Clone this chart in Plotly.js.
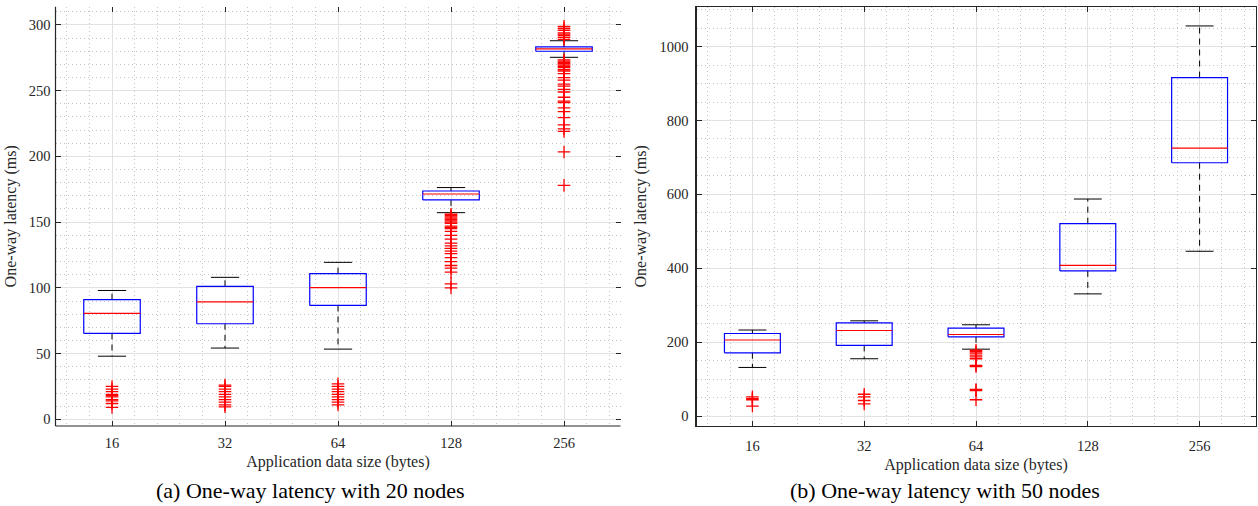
<!DOCTYPE html>
<html>
<head>
<meta charset="utf-8">
<script src="https://cdn.plot.ly/plotly-3.0.1.min.js"></script>
<style>html,body{margin:0;padding:0;background:#fff;}#chart{width:1258px;height:506px;}</style>
</head>
<body>
<div id="chart"></div>
<script>
// ---------- data ----------
const categories = ['16', '32', '64', '128', '256'];
const positions = [1, 2, 3, 4, 5];

// (a) 20 nodes
const a_q1 = [65.3, 72.7, 86.6, 166.9, 280.0];
const a_median = [80.6, 89.4, 100.2, 171.4, 281.8];
const a_q3 = [91.0, 101.2, 110.8, 173.7, 283.3];
const a_lowerWhisker = [48.0, 54.2, 53.4, 157.2, 275.4];
const a_upperWhisker = [98.0, 108.0, 119.4, 176.3, 288.0];
const a_out16 = [9, 12, 14, 15, 17, 18, 19, 21, 23, 25];
const a_out32 = [9.5, 11, 13, 15, 17, 19, 21, 23, 25, 26];
const a_out64 = [11, 13, 15, 17, 19, 21, 23, 25, 27];
const a_out128 = [156, 155, 154, 153, 152, 151, 150, 149, 147, 146, 145, 143, 140, 137, 134, 132, 130, 128, 126, 123, 120, 117, 115, 112, 103, 100];
const a_out256 = [299, 297.5, 296, 294, 293, 292, 290.5, 289,
  273.5, 272.5, 271.5, 270.5, 269.5, 268.5, 267.5, 266, 265, 263, 260, 258, 255, 253.5, 251, 249, 245, 242, 241, 237, 234, 229.5, 224, 221, 219, 203.4, 178];

// (b) 50 nodes
const b_q1 = [171.2, 191.0, 214.4, 392.8, 685.6];
const b_median = [205.8, 231.5, 220.7, 408.0, 725.2];
const b_q3 = [223.4, 252.3, 238.0, 520.7, 916.2];
const b_lowerWhisker = [131.5, 155.0, 181.0, 330.6, 446.0];
const b_upperWhisker = [232.8, 257.7, 247.0, 587.4, 1055.9];
const b_out16 = [52, 47, 44, 27];
const b_out32 = [59, 52, 42, 33];
const b_out64 = [178, 174, 170, 165, 160, 155, 137, 134, 72, 69, 44];
const b_out128 = [];
const b_out256 = [];

// ---------- styling ----------
const FONT = 'Liberation Serif';
const TXT = '#262626';
const BOX_W = 0.5, CAP_W = 0.25;

function panelTraces(q1, med, q3, lo, hi, outs, xa, ya) {
  const bx = [], by = [];
  const wx = [], wy = [];
  const cx = [], cy = [];
  const mx = [], my = [];
  positions.forEach((p, i) => {
    const l = p - BOX_W / 2, r = p + BOX_W / 2;
    bx.push(l, r, r, l, l, null);
    by.push(q1[i], q1[i], q3[i], q3[i], q1[i], null);
    wx.push(p, p, null, p, p, null);
    wy.push(q3[i], hi[i], null, q1[i], lo[i], null);
    cx.push(p - CAP_W / 2, p + CAP_W / 2, null, p - CAP_W / 2, p + CAP_W / 2, null);
    cy.push(hi[i], hi[i], null, lo[i], lo[i], null);
    mx.push(l, r, null);
    my.push(med[i], med[i], null);
  });
  const ox = [], oy = [];
  outs.forEach((arr, i) => arr.forEach(v => { ox.push(positions[i]); oy.push(v); }));
  const common = {xaxis: xa, yaxis: ya, hoverinfo: 'skip', showlegend: false};
  return [
    Object.assign({type: 'scatter', mode: 'lines', x: wx, y: wy,
      line: {color: '#000000', width: 1, dash: '6px,5px'}}, common),
    Object.assign({type: 'scatter', mode: 'lines', x: cx, y: cy,
      line: {color: '#000000', width: 1}}, common),
    Object.assign({type: 'scatter', mode: 'lines', x: bx, y: by,
      line: {color: '#0000ff', width: 1.2}}, common),
    Object.assign({type: 'scatter', mode: 'lines', x: mx, y: my,
      line: {color: '#ff0000', width: 1.2}}, common),
    Object.assign({type: 'scatter', mode: 'markers', x: ox, y: oy,
      marker: {symbol: 'cross-thin', size: 9, line: {color: '#ff0000', width: 1.3}}}, common)
  ];
}

const data = [].concat(
  panelTraces(a_q1, a_median, a_q3, a_lowerWhisker, a_upperWhisker,
    [a_out16, a_out32, a_out64, a_out128, a_out256], 'x', 'y'),
  panelTraces(b_q1, b_median, b_q3, b_lowerWhisker, b_upperWhisker,
    [b_out16, b_out32, b_out64, b_out128, b_out256], 'x2', 'y2')
);

const MINOR = {showgrid: true, gridcolor: '#c4c4c4', griddash: '1px,3px', gridwidth: 1, ticks: ''};

function xAxis(domain, anchor, line) {
  return {
    domain: domain, anchor: anchor, range: [0.5, 5.5],
    tickmode: 'array', tickvals: positions, ticktext: categories,
    ticks: 'inside', ticklen: 5, tickwidth: 1, tickcolor: TXT,
    showline: line, linecolor: TXT, linewidth: 1.2, mirror: 'ticks',
    showgrid: true, gridcolor: '#e2e2e2', gridwidth: 1, zeroline: false,
    minor: Object.assign({dtick: 0.2, tick0: 0}, MINOR),
    tickfont: {family: FONT, size: 14.5, color: TXT}, ticklabelstandoff: 6,
    title: {text: 'Application data size (bytes)', font: {family: FONT, size: 16, color: TXT}, standoff: 6},
    automargin: false, fixedrange: true
  };
}
function yAxis(range, dtick, minor, anchor, line) {
  return {
    domain: [1 - 426 / 506, 1 - 6.7 / 506], anchor: anchor, range: range,
    dtick: dtick, tick0: 0, ticks: 'inside', ticklen: 5, tickwidth: 1, tickcolor: TXT,
    showline: line, linecolor: TXT, linewidth: 1.2, mirror: 'ticks',
    showgrid: true, gridcolor: '#e2e2e2', gridwidth: 1, zeroline: false,
    minor: Object.assign({dtick: minor, tick0: 0}, MINOR),
    tickfont: {family: FONT, size: 14.5, color: TXT}, ticklabelstandoff: 4,
    title: {text: 'One-way latency (ms)', font: {family: FONT, size: 16, color: TXT}, standoff: 8},
    automargin: false, fixedrange: true
  };
}

const layout = {
  width: 1258, height: 506,
  margin: {l: 0, r: 0, t: 0, b: 0},
  paper_bgcolor: '#ffffff', plot_bgcolor: '#ffffff',
  showlegend: false,
  xaxis: xAxis([55.5 / 1258, 620.5 / 1258], 'y', false),
  yaxis: yAxis([-5.1, 313.9], 50, 10, 'x', false),
  xaxis2: xAxis([696.5 / 1258, 1255.5 / 1258], 'y2', true),
  yaxis2: yAxis([-27, 1108], 200, 50, 'x2', true),
  shapes: [
    {type: 'line', xref: 'x domain', yref: 'y domain', x0: 0, x1: 0, y0: 0, y1: 1, line: {color: TXT, width: 1.2}},
    {type: 'line', xref: 'x domain', yref: 'y domain', x0: 0, x1: 1, y0: 0, y1: 0, line: {color: TXT, width: 1.2}}
  ],
  annotations: [
    {text: '(a) One-way latency with 20 nodes', xref: 'paper', yref: 'paper',
      x: 310 / 1258, y: 1 - 490 / 506, xanchor: 'center', yanchor: 'middle', showarrow: false,
      font: {family: FONT, size: 22, color: '#000'}},
    {text: '(b) One-way latency with 50 nodes', xref: 'paper', yref: 'paper',
      x: 945 / 1258, y: 1 - 490 / 506, xanchor: 'center', yanchor: 'middle', showarrow: false,
      font: {family: FONT, size: 22, color: '#000'}}
  ]
};

Plotly.newPlot('chart', data, layout, {staticPlot: true, displayModeBar: false});
</script>
</body>
</html>
